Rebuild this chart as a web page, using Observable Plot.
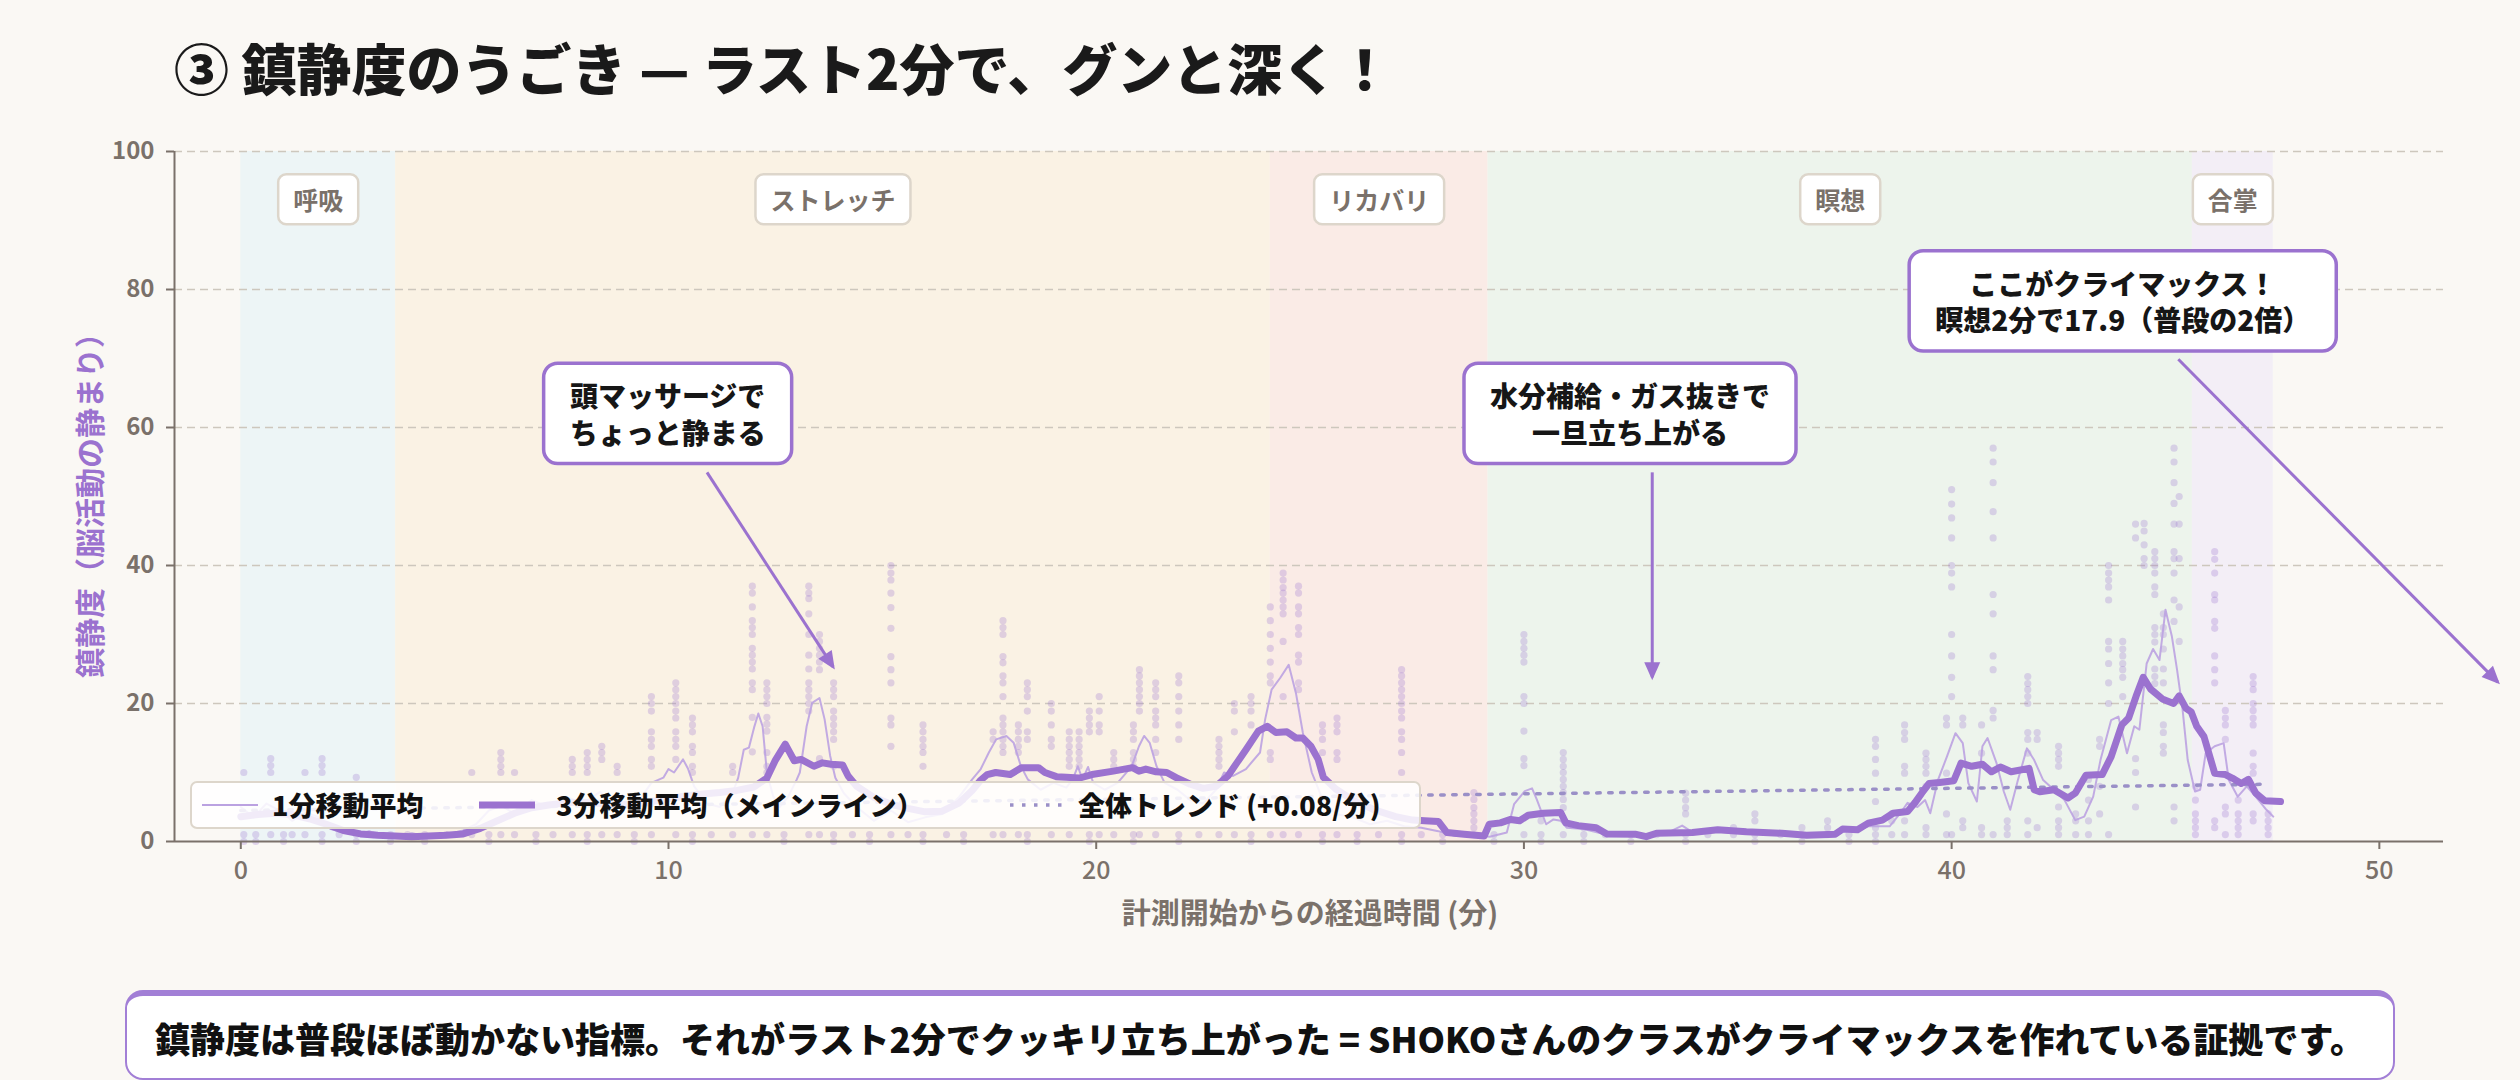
<!DOCTYPE html>
<html><head><meta charset="utf-8">
<script src="https://cdn.jsdelivr.net/npm/d3@7"></script>
<script src="https://cdn.jsdelivr.net/npm/@observablehq/plot@0.6"></script>
<style>
body{margin:0;background:#faf8f4;width:2520px;height:1080px;overflow:hidden;font-family:'Noto Sans CJK JP','Noto Sans',sans-serif;}
#wrap{position:relative;width:2520px;height:1080px;}
#title{position:absolute;left:174px;top:39px;font-size:55px;font-weight:900;color:#1a1a1a;line-height:1;white-space:nowrap;}
#chart{position:absolute;left:0;top:100px;}
#ylab{position:absolute;left:88px;top:498px;transform:translate(-50%,-50%) rotate(-90deg);font-size:30px;font-weight:700;color:#9b72cf;white-space:nowrap;line-height:1;}
#xlab{position:absolute;left:1310px;top:911px;transform:translate(-50%,-50%);font-size:29px;font-weight:700;color:#7a716a;white-space:nowrap;line-height:1;}
#legend{position:absolute;left:190px;top:781px;width:1231px;height:48px;box-sizing:border-box;background:rgba(255,255,255,0.86);border:2px solid #ddd6cb;border-radius:7px;}
.li{position:absolute;top:50%;transform:translateY(-52%);font-size:27px;font-weight:900;color:#111;white-space:nowrap;line-height:1;}
.sw{position:absolute;top:50%;transform:translateY(-50%);display:block;}
#caption{position:absolute;left:125px;top:990px;width:2270px;height:90px;box-sizing:border-box;background:#fff;border:2.5px solid #a27fd6;border-top-width:6px;border-radius:18px;display:flex;align-items:center;justify-content:center;font-size:35px;font-weight:900;color:#111;white-space:nowrap;}
</style></head>
<body>
<div id="wrap">
  <div id="title">③ 鎮静度のうごき — ラスト2分で、グンと深く！</div>
  <div id="chart"></div>
  <div id="ylab">鎮静度（脳活動の静まり）</div>
  <div id="xlab">計測開始からの経過時間 (分)</div>
  <div id="legend"></div>
  <div id="caption">鎮静度は普段ほぼ動かない指標。それがラスト2分でクッキリ立ち上がった = SHOKOさんのクラスがクライマックスを作れている証拠です。</div>
</div>
<script>
// ---------- data ----------
const phaseNames  = ["呼吸", "ストレッチ", "リカバリ", "瞑想", "合掌"];
const phaseStart  = [0, 3.62, 24.07, 29.16, 45.63];
const phaseEnd    = [3.62, 24.07, 29.16, 45.63, 47.52];
const phaseColors = ["#edf5f6", "#faf2e4", "#faebe6", "#edf4ec", "#f3eef6"];

const xTicks = [0, 10, 20, 30, 40, 50];
const yTicks = [0, 20, 40, 60, 80, 100];
const gridTicks = [20, 40, 60, 80, 100];

// 3-minute moving average [minute, value]
const ma3Points = [
[0.0,3.6],[0.4,3.9],[0.8,4.1],[1.2,3.9],[1.6,3.3],[2.0,2.5],[2.4,1.6],[2.8,1.1],[3.2,0.9],[3.6,0.8],
[4.0,0.7],[4.4,0.8],[4.8,0.9],[5.2,1.1],[5.6,1.9],[6.0,3.0],[6.4,4.1],[6.8,4.9],[7.2,5.3],[7.6,5.6],
[8.0,5.7],[8.4,5.5],[8.8,5.3],[9.2,5.4],[9.6,5.8],[10.0,6.2],[10.4,6.6],[10.8,6.9],[11.2,7.1],[11.6,7.4],
[12.0,7.9],[12.3,9.2],[12.5,11.8],[12.73,14.1],[12.94,11.7],[13.1,11.9],[13.4,10.9],[13.6,11.4],[13.8,11.2],[14.07,11.1],
[14.2,9.5],[14.4,8.0],[14.8,6.4],[15.2,5.4],[15.6,4.8],[16.0,4.3],[16.4,4.4],[16.8,5.6],[17.1,7.4],[17.3,8.9],
[17.45,9.7],[17.65,10.0],[17.99,9.7],[18.25,10.7],[18.65,10.7],[18.8,10.0],[19.07,9.4],[19.3,9.3],[19.6,9.2],[19.9,9.7],
[20.4,10.2],[20.85,10.7],[21.0,10.2],[21.16,10.5],[21.4,10.1],[21.65,10.0],[21.87,9.25],[22.2,8.3],[22.5,7.7],[22.8,8.0],
[23.08,9.5],[23.3,11.5],[23.5,13.3],[23.79,16.0],[24.0,16.7],[24.2,15.8],[24.46,15.9],[24.67,15.0],[24.83,15.0],[25.02,13.8],
[25.19,11.9],[25.31,9.3],[25.6,7.6],[26.0,6.0],[26.5,4.6],[27.0,3.6],[27.4,3.1],[27.68,3.0],[28.0,2.9],[28.2,1.3],
[28.6,1.06],[29.07,0.8],[29.19,2.5],[29.45,2.7],[29.69,3.2],[29.9,3.0],[30.1,3.8],[30.45,4.1],[30.86,4.2],[30.98,2.7],
[31.27,2.3],[31.69,2.0],[31.94,1.1],[32.6,1.06],[32.86,0.7],[33.1,1.2],[33.94,1.3],[34.53,1.7],[35.2,1.4],[36.03,1.2],
[36.61,0.9],[37.28,1.06],[37.45,1.8],[37.8,1.7],[38.05,2.66],[38.38,3.1],[38.63,4.1],[38.97,4.35],[39.14,5.6],[39.3,7.0],
[39.47,8.4],[39.72,8.55],[40.05,8.8],[40.22,11.35],[40.47,10.9],[40.72,11.2],[40.93,10.1],[41.14,10.8],[41.39,10.1],[41.81,10.6],
[41.93,7.5],[42.06,7.2],[42.39,7.5],[42.72,6.3],[42.89,7.0],[43.14,9.6],[43.52,9.7],[43.73,12.3],[43.98,16.9],[44.14,17.9],
[44.31,21.0],[44.48,23.8],[44.65,22.1],[44.94,20.6],[45.19,20.0],[45.32,21.1],[45.48,19.3],[45.6,18.8],[45.73,16.7],[45.9,15.2],
[46.15,9.9],[46.4,9.7],[46.56,9.2],[46.77,8.4],[46.94,9.0],[47.11,7.0],[47.32,5.9],[47.69,5.8]
];

// 1-minute moving average [minute, value]
const ma1Points = [
[0.0,5.0],[0.3,3.5],[0.6,5.5],[0.9,4.5],[1.2,3.0],[1.5,4.2],[1.8,3.6],[2.1,1.8],[2.4,1.3],[2.7,1.0],
[3.0,1.5],[3.3,0.8],[3.6,0.6],[4.0,1.2],[4.4,0.7],[4.8,1.0],[5.2,1.6],[5.5,2.5],[5.8,4.5],[6.1,5.2],
[6.4,4.0],[6.8,6.0],[7.2,5.0],[7.6,6.5],[8.0,5.5],[8.4,7.2],[8.8,4.8],[9.2,5.0],[9.6,8.5],[9.88,9.25],
[10.0,10.5],[10.13,10.0],[10.34,11.9],[10.46,10.5],[10.6,8.0],[10.9,5.5],[11.2,5.0],[11.5,7.0],[11.63,9.25],[11.76,13.3],
[11.88,13.6],[12.0,16.5],[12.1,18.55],[12.2,16.7],[12.3,10.0],[12.45,6.5],[12.6,5.0],[12.8,6.5],[13.0,9.0],[13.07,10.0],
[13.23,16.7],[13.36,20.1],[13.53,20.8],[13.65,17.7],[13.78,12.4],[13.9,9.25],[14.1,7.0],[14.4,5.0],[14.8,3.0],[15.2,4.5],
[15.6,2.8],[16.0,3.5],[16.4,4.0],[16.8,6.5],[17.1,9.0],[17.3,10.5],[17.49,12.9],[17.66,14.8],[17.9,15.3],[18.07,14.3],
[18.24,10.9],[18.4,9.0],[18.7,7.5],[19.0,8.5],[19.3,7.8],[19.45,9.0],[19.57,10.9],[19.68,9.0],[19.81,10.8],[19.93,8.5],
[20.2,7.5],[20.5,8.5],[20.83,10.9],[21.0,13.8],[21.12,15.3],[21.25,14.3],[21.41,10.9],[21.6,8.5],[21.9,7.5],[22.2,6.0],
[22.5,5.5],[22.8,7.5],[22.99,10.0],[23.2,9.5],[23.5,10.5],[23.83,12.9],[23.95,17.7],[24.1,22.0],[24.3,23.7],[24.5,25.6],
[24.67,21.5],[24.83,15.8],[25.04,10.0],[25.3,6.0],[25.6,4.0],[26.0,3.5],[26.4,2.5],[26.8,3.0],[27.2,2.2],[27.6,2.0],
[28.0,1.5],[28.4,0.8],[28.8,1.0],[29.2,0.7],[29.6,1.3],[29.77,5.4],[30.02,7.3],[30.19,7.7],[30.3,6.1],[30.52,2.5],
[30.69,3.2],[30.86,3.0],[31.0,2.0],[31.4,1.8],[31.8,1.2],[32.2,0.9],[32.6,1.0],[33.0,0.7],[33.4,1.4],[33.7,2.3],
[33.9,1.5],[34.3,1.4],[34.8,1.8],[35.2,1.3],[35.6,1.6],[36.0,1.0],[36.5,0.8],[37.0,1.0],[37.4,1.5],[37.8,1.6],
[38.05,2.2],[38.55,2.2],[38.8,4.1],[38.97,5.6],[39.2,5.0],[39.38,6.0],[39.5,4.1],[39.68,8.9],[39.89,12.3],[40.09,15.7],
[40.26,14.25],[40.39,8.45],[40.59,5.8],[40.72,13.8],[40.84,15.0],[41.05,11.35],[41.22,7.25],[41.37,4.6],[41.55,8.9],[41.76,13.5],
[41.93,11.8],[42.14,8.9],[42.39,7.5],[42.64,6.0],[42.89,3.1],[43.1,3.6],[43.31,6.5],[43.48,11.8],[43.73,17.6],[43.9,18.1],
[44.1,12.8],[44.27,16.7],[44.39,16.2],[44.56,25.8],[44.71,27.9],[44.86,26.3],[45.0,33.6],[45.15,29.7],[45.27,24.9],[45.4,19.1],
[45.52,11.8],[45.69,7.25],[45.81,7.5],[45.94,12.8],[46.15,13.8],[46.36,14.25],[46.48,8.9],[46.69,6.5],[46.9,8.0],[47.11,6.5],
[47.36,4.6],[47.52,3.6]
];

// overall linear trend (+0.08 / min), endpoints
const trendT = [0, 47.4];
const trendV = [4.5, 8.3];

// raw samples: [minute, [values...]]
const rawColumns = [
[0.07,[10,1,0]],[0.35,[1,0]],[0.7,[12,11,10,1]],[1.0,[1,0]],[1.2,[1]],[1.5,[10,1]],[1.9,[12,11,10,1,0]],
[2.3,[1]],[2.7,[9.3,1,0]],[3.1,[1]],[3.5,[1,0]],[3.9,[1]],[4.3,[1,0]],[4.8,[1]],[5.4,[10,1]],[5.8,[1,0]],
[6.08,[12.9,11.9,10.9,10,1]],[6.4,[10,1]],[6.9,[1,0]],[7.3,[1]],[7.75,[11.9,10.9,10,1]],[8.1,[12.9,11.9,10.9,10,1,0]],
[8.44,[13.8,12.9,11.9,1]],[8.8,[10.9,10,1]],[9.2,[1,0]],[9.6,[21,20,18.9,15.9,14.8,13.8,11.9,10.9,1]],
[10.17,[23,22,21,20,18.9,17.9,15.9,14.8,13.8,11.9,1]],[10.56,[17.9,16.9,15.9,13.8,12.9,10.9,10,1,0]],[11.0,[1]],
[11.5,[10.9,10,1]],[11.96,[37,36,34,32,31,30,28,27,26,25,23,22,18,13,1]],[12.3,[23,22,21,20,18,17,16,12.9,10.9,10,1]],
[12.7,[1,0]],[13.28,[37,36,35.2,33,30,27,25,23,22,21,20,18.9,1]],[13.53,[30,29,28,27,26,24.9,12,1]],
[13.86,[23,22,21,18.9,17.9,16.9,15.9,14.8,10.9,1,0]],[14.3,[1]],[14.7,[1,0]],
[15.2,[40,38.9,37.9,36,33.9,30.9,26.8,24.9,23,17.9,16.9,13.8,1]],[15.6,[1]],[15.95,[16.9,15.9,14.8,13.8,12.9,10.9,1,0]],
[16.5,[1]],[16.9,[1,0]],[17.59,[15.9,14.8,1]],[17.82,[32,31,30,26.8,25.9,24,23,21,17.9,16.9,15.9,14.8,13.8,12.9,1]],
[18.18,[16.9,15.9,14.8,13.8,12.9,1]],[18.39,[23,22,21,18.9,15.9,14.8,1,0]],[18.95,[20,18.9,16.9,14.8,13.8,1]],
[19.37,[15.9,14.8,13.8,12.9,11.9,10.9,1]],[19.6,[15.9,14.8,13.8,12.9,11.9,10.9]],[19.84,[18.9,17.9,16.9,15.9,1,0]],
[20.07,[21,18.9,16.9,15.9,1]],[20.41,[12.9,11.9,10.9,1]],[20.87,[16.9,15.9,14.8,12.9,11.9,10.9,1,0]],
[21.01,[24.9,24,23,22,21,20,18.9,1]],[21.39,[23,22,21,18.9,17.9,16.9,14.8,12.9,1]],[21.93,[24,23,21,18.9,16.9,14.8,1,0]],
[22.4,[1]],[22.87,[14.8,13.8,12.9,11.9,10.9,1]],[23.23,[20,18.9,15.9,1]],[23.62,[21,20,18.9,16.9,1,0]],
[24.07,[34,32,30,28,26,24,23,12.9,11.9,1]],[24.37,[38.9,37.9,36.8,36,35,34,33,29,21,1]],
[24.73,[37,36,34,33,31,30,27,26,23,22,1]],[25.29,[16.9,15.9,14.8,12.9,1,0]],[25.63,[17.9,16.9,15.9,12.9,11.9,1]],
[26.1,[1,0]],[26.6,[1]],[27.14,[24.9,24,23,22,21,20,18.9,17.9,15.9,14.8,12.9,10,1,0]],[27.6,[1]],[28.1,[1,0]],
[28.83,[7.1,6.1,4.9,4,3,2,1]],[29.3,[1,0]],[30.0,[30,29,28,27,26,21,20,16,12,11,1]],[30.4,[4,3,1,0]],
[30.92,[12.9,11.9,10.9,10,9,8,7.1,6.1,4.9,1]],[31.4,[2,1,0]],[31.9,[1]],[32.5,[1,0]],[33.1,[1]],
[33.78,[7,6,4.9,4,1,0]],[34.3,[1]],[34.9,[2,1]],[35.4,[4,3,1,0]],[36.0,[1]],[36.5,[2,1,0]],[37.1,[3,2,1]],
[37.6,[1,0]],[38.22,[14.8,13.8,11.9,9.9,5.8,2,1,0]],[38.6,[4,3,1]],[38.9,[16.9,15.8,14.8,10.9,9.9,3,1]],
[39.4,[12.8,11.9,10.9,9.9,8,2,1]],[39.88,[17.9,16.9,9.9,4,1]],[40.0,[51,48.9,46.9,44,40,38.9,36.9,30,26.9,23.8,21,1]],
[40.26,[17.9,16.9,3,2]],[40.7,[16.9,12.8,2,1]],[40.97,[57,55,52,47.8,44,35.8,33,26.9,24.9,19,17.9,1]],
[41.3,[3,2,1]],[41.78,[23.9,22.9,22,21,20,15.8,14.8,12.8,3,1]],[42.0,[15.8,14.8,2]],[42.5,[13.8,12.8,11.9,10.9,5,3,2,1]],
[42.9,[4,3,1]],[43.2,[9,6,3,1]],[43.46,[14.8,13.8,8,4]],[43.67,[40,38.9,37.9,36.9,35,29,27.9,25.8,23,20,1]],
[44.0,[29,27.9,26.9,25.8,24.9,23.8,21]],[44.3,[46,44,12,10,5]],[44.5,[46.1,45,43,41,40]],
[44.75,[42,41,40,38.9,36.9,35.8,31,30,28.9,25,23.9,22.9]],[44.95,[33,31,30,27.9,25,23,16.9,15.8,13.8,12.8]],
[45.2,[57,55,52,49,46,42,41,38.9,35,31.9,5,3]],[45.32,[50,46,41,34,29]],[45.7,[8,6,4,3,2,1]],
[46.15,[42,40.9,38.9,35.8,35,31.9,30.9,26.9,24.9,23,3,2]],[46.4,[19,17.9,16.9,14.8,5,4,1]],[46.7,[6,4,3,2,1]],
[47.05,[23.9,22.9,22,20,19,17.9,16.9,12.8,10.9,9.9,4,3]],[47.4,[4,3,2,1]]
];

// annotations (data coordinates)
const annotTexts = ["頭マッサージで\nちょっと静まる", "水分補給・ガス抜きで\n一旦立ち上がる", "ここがクライマックス！\n瞑想2分で17.9（普段の2倍）"];
const annotX = [9.98, 32.48, 44.0];
const annotY = [62, 62, 78.3];
const arrowFrom = [[10.9, 53.5], [33.0, 53.5], [45.3, 69.9]];
const arrowTo   = [[13.85, 25.3], [33.0, 23.8], [52.77, 23.1]];

const xDomain = [-1.55, 51.5];
const yDomain = [0, 100];

// ---------- build tables ----------
const phases = phaseNames.map((n, i) => ({name: n, s: phaseStart[i], e: phaseEnd[i], c: phaseColors[i]}));
const ma3 = ma3Points.map(([t, v]) => ({t, v}));
const ma1 = ma1Points.map(([t, v]) => ({t, v}));
const trend = trendT.map((t, i) => ({t, v: trendV[i]}));
const raw = rawColumns.flatMap(([t, vs]) => vs.map(v => ({t, v})));
const annots = annotTexts.map((s, i) => ({text: s, x: annotX[i], y: annotY[i]}));
const arrows = arrowFrom.map((f, i) => ({x1: f[0], y1: f[1], x2: arrowTo[i][0], y2: arrowTo[i][1]}));

const PURPLE = "#9b72cf";
const GRAY = "#7a716a";
const FONT = "'Noto Sans CJK JP','Noto Sans',sans-serif";

const plot = Plot.plot({
  width: 2520, height: 860,
  marginTop: 51, marginBottom: 119, marginLeft: 174, marginRight: 77,
  style: {background: "transparent", fontFamily: FONT, overflow: "visible"},
  x: {domain: xDomain, label: null},
  y: {domain: yDomain, label: null},
  marks: [
    ...phases.map(p => Plot.rect([p], {x1: "s", x2: "e", y1: yDomain[0], y2: yDomain[1], fill: p.c})),
    Plot.gridY(gridTicks, {stroke: "#cdc7bd", strokeOpacity: 1, strokeWidth: 1.5, strokeDasharray: "8,5"}),
    Plot.dot(raw, {x: "t", y: "v", r: 3.6, fill: PURPLE, fillOpacity: 0.28, stroke: "none"}),
    Plot.line(ma1, {x: "t", y: "v", stroke: "#bba2e1", strokeWidth: 2, strokeOpacity: 0.9}),
    Plot.line(trend, {x: "t", y: "v", stroke: "#9a8fc7", strokeWidth: 3.5, strokeDasharray: "3.5,8.5"}),
    Plot.line(ma3, {x: "t", y: "v", stroke: PURPLE, strokeWidth: 7, strokeLinejoin: "round", strokeLinecap: "round"}),
    Plot.ruleX([xDomain[0]], {y1: yDomain[0], y2: yDomain[1], stroke: GRAY, strokeWidth: 2}),
    Plot.ruleY([yDomain[0]], {stroke: GRAY, strokeWidth: 2}),
    Plot.axisY({ticks: yTicks, tickSize: 8, tickPadding: 12, stroke: GRAY, fill: GRAY, strokeWidth: 2, fontSize: 24, fontWeight: "bold", label: null}),
    Plot.axisX({ticks: xTicks, tickSize: 8, tickPadding: 12, stroke: GRAY, fill: GRAY, strokeWidth: 2, fontSize: 25, fontWeight: 500, label: null}),
    Plot.text(phases, {x: d => (d.s + d.e) / 2, frameAnchor: "top", dy: 41, text: "name", fontSize: 25, fontWeight: "bold", fill: GRAY}),
    Plot.link(arrows, {x1: "x1", y1: "y1", x2: "x2", y2: "y2", stroke: PURPLE, strokeWidth: 3, markerEnd: "arrow"}),
    Plot.text(annots, {x: "x", y: "y", text: "text", fontSize: 28, fontWeight: 900, fill: "#161616", lineHeight: 1.3})
  ]
});
document.getElementById("chart").appendChild(plot);

// ---------- post-processing: boxes behind labels & filled arrow heads ----------
const NS = "http://www.w3.org/2000/svg";
const phaseSet = new Set(phaseNames);
const annotSet = new Set(annotTexts.map(s => s.replace(/\n/g, "")));
function addBox(t, padX, padY, fill, stroke, sw, rx) {
  const b = t.getBBox();
  const r = document.createElementNS(NS, "rect");
  r.setAttribute("x", b.x - padX);
  r.setAttribute("y", b.y - padY);
  r.setAttribute("width", b.width + 2 * padX);
  r.setAttribute("height", b.height + 2 * padY);
  r.setAttribute("rx", rx);
  r.setAttribute("fill", fill);
  r.setAttribute("stroke", stroke);
  r.setAttribute("stroke-width", sw);
  const tr = t.getAttribute("transform");
  if (tr) r.setAttribute("transform", tr);
  t.parentNode.insertBefore(r, t);
}
plot.querySelectorAll("text").forEach(t => {
  const s = t.textContent;
  if (phaseSet.has(s)) addBox(t, 15, 7, "#ffffff", "#ddd6cb", 2.5, 8);
  else if (annotSet.has(s)) addBox(t, 26, 12, "#ffffff", PURPLE, 3.5, 14);
});

plot.querySelectorAll("marker").forEach(m => {
  const c = m.getAttribute("stroke") || PURPLE;
  m.setAttribute("fill", c);
  m.setAttribute("stroke", "none");
  m.setAttribute("overflow", "visible");
  m.innerHTML = "";
  const p = document.createElementNS(NS, "path");
  p.setAttribute("d", "M-7.5,-4L1.5,0L-7.5,4Z");
  m.appendChild(p);
});

// ---------- legend ----------
const legendItems = [
  {label: "1分移動平均", sw: 10, tx: 80, stroke: "#bba2e1", width: 2, dash: null},
  {label: "3分移動平均（メインライン）", sw: 287, tx: 364, stroke: PURPLE, width: 7, dash: null},
  {label: "全体トレンド (+0.08/分)", sw: 818, tx: 886, stroke: "#9a8fc7", width: 3.5, dash: "3.5,8.5"}
];
const lg = document.getElementById("legend");
legendItems.forEach(it => {
  const s = document.createElementNS(NS, "svg");
  s.setAttribute("width", 56); s.setAttribute("height", 12);
  s.setAttribute("class", "sw");
  s.style.left = it.sw + "px";
  const l = document.createElementNS(NS, "line");
  l.setAttribute("x1", 0); l.setAttribute("x2", 56); l.setAttribute("y1", 6); l.setAttribute("y2", 6);
  l.setAttribute("stroke", it.stroke); l.setAttribute("stroke-width", it.width);
  if (it.dash) l.setAttribute("stroke-dasharray", it.dash);
  s.appendChild(l);
  lg.appendChild(s);
  const d = document.createElement("div");
  d.className = "li"; d.style.left = it.tx + "px"; d.textContent = it.label;
  lg.appendChild(d);
});
</script>
</body></html>
